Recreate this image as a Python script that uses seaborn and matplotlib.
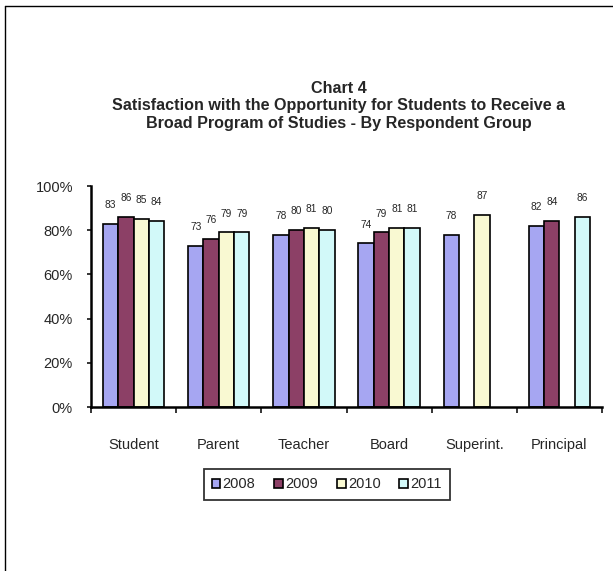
import numpy as np
import pandas as pd
import matplotlib.pyplot as plt
import seaborn as sns

sns.set_style('white')
plt.rcParams['font.family'] = ['Liberation Sans', 'DejaVu Sans']

# Data
groups = ['Student', 'Parent', 'Teacher', 'Board', 'Superint.', 'Principal']
years = ['2008', '2009', '2010', '2011']
v2008 = [83, 73, 78, 74, 78, 82]
v2009 = [86, 76, 80, 79, np.nan, 84]
v2010 = [85, 79, 81, 81, 87, np.nan]
v2011 = [84, 79, 80, 81, np.nan, 86]
colors = ['#9999FF', '#993366', '#FFFFCC', '#CCFFFF']

values = {'2008': v2008, '2009': v2009, '2010': v2010, '2011': v2011}
rows = []
for y in years:
    for g, v in zip(groups, values[y]):
        rows.append({'Group': g, 'Year': y, 'Score': v / 100})
df = pd.DataFrame(rows)

fig = plt.figure(figsize=(6.13, 5.71), dpi=100)
ax = fig.add_axes([0.1485, 0.2872, 0.8336, 0.387])

sns.barplot(data=df, x='Group', y='Score', hue='Year', order=groups, hue_order=years,
            palette=colors, width=0.72, edgecolor='black', linewidth=1.2, ax=ax,
            legend=True)

# value labels
for cont in ax.containers:
    for bar in cont:
        if bar is None:
            continue
        h = bar.get_height()
        if np.isnan(h):
            continue
        ax.annotate('%d' % round(h * 100), (bar.get_x() + bar.get_width() / 2, h),
                    xytext=(0, 10), textcoords='offset points', ha='center', va='bottom',
                    fontsize=7.3)

ax.set_ylim(0, 1)
ax.set_xlim(-0.5, len(groups) - 0.5)
yt = np.arange(0, 1.01, 0.2)
ax.set_yticks(yt)
ax.set_yticklabels(['%d%%' % round(t * 100) for t in yt], fontsize=10.5)
ax.set_xticks(range(len(groups)))
ax.set_xticklabels(groups, fontsize=10.5)
ax.tick_params(axis='x', length=0, pad=22)
ax.tick_params(axis='y', length=3, width=1.3, direction='out', left=True, pad=10)
# ticks between categories on x axis
ax.set_xticks(np.arange(-0.5, len(groups), 1), minor=True)
ax.tick_params(axis='x', which='minor', length=4, width=1.3, direction='out', bottom=True)
ax.set_xlabel('')
ax.set_ylabel('')
for s in ['top', 'right']:
    ax.spines[s].set_visible(False)
for s in ['left', 'bottom']:
    ax.spines[s].set_linewidth(1.8)
    ax.spines[s].set_color('black')

fig.text(0.553, 0.8144, 'Chart 4\nSatisfaction with the Opportunity for Students to Receive a\nBroad Program of Studies - By Respondent Group',
         ha='center', va='center', fontsize=11.6, fontweight='bold', linespacing=1.22)

handles, labels = ax.get_legend_handles_labels()
ax.legend_.remove()
leg = fig.legend(handles, labels, loc='center', bbox_to_anchor=(0.533, 0.1515), ncol=4,
                 frameon=True, fancybox=False, edgecolor='black', fontsize=10.5,
                 handlelength=0.6, handleheight=0.6, handletextpad=0.15, columnspacing=1.3,
                 borderpad=0.55, borderaxespad=0)
leg.get_frame().set_linewidth(1.3)

# chart area border (only left and top visible in the reference)
fig.add_artist(plt.Line2D([0.0075, 0.0075], [0.0, 0.990], transform=fig.transFigure,
                          color='black', linewidth=1.0))
fig.add_artist(plt.Line2D([0.0075, 1.0], [0.990, 0.990], transform=fig.transFigure,
                          color='black', linewidth=1.0))

fig.savefig('out.png', dpi=100, facecolor='white')
